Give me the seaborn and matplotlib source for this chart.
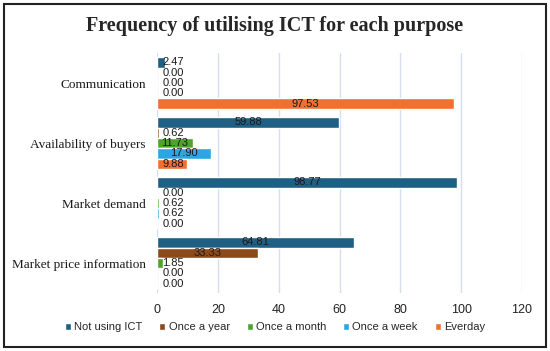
import matplotlib
matplotlib.use("Agg")
import matplotlib.pyplot as plt
import seaborn as sns
import pandas as pd
from matplotlib.patches import Rectangle

# data
purposes = ["Communication", "Availability of buyers", "Market demand", "Market price information"]
frequencies = ["Not using ICT", "Once a year", "Once a month", "Once a week", "Everday"]
not_using = [2.47, 59.88, 98.77, 64.81]
once_year = [0.00, 0.62, 0.00, 33.33]
once_month = [0.00, 11.73, 0.62, 1.85]
once_week = [0.00, 17.90, 0.62, 0.00]
everyday = [97.53, 9.88, 0.00, 0.00]

colors = ["#1f5f84", "#8b4a1c", "#4fa32c", "#2aa7e0", "#f07030"]

rows = []
for freq, vals in zip(frequencies, [not_using, once_year, once_month, once_week, everyday]):
    for p, v in zip(purposes, vals):
        rows.append({"Purpose": p, "Frequency": freq, "Value": v})
df = pd.DataFrame(rows)

sns.set_style("white")
fig = plt.figure(figsize=(5.5, 3.51), dpi=100)
ax = fig.add_axes([0.2855, 0.165, 0.6636, 0.684])

sns.barplot(data=df, y="Purpose", x="Value", hue="Frequency", order=purposes,
            hue_order=frequencies, palette=colors, orient="h", width=0.86,
            saturation=1, errorbar=None, ax=ax, legend=True)

# value labels: centred on the bar, pushed right for tiny bars
for cont in ax.containers:
    for bar in cont:
        v = bar.get_width()
        yc = bar.get_y() + bar.get_height() / 2
        ax.text(max(v / 2, 5.3), yc, f"{v:.2f}", ha="center", va="center",
                fontsize=8, color="#1a1a1a", family="Liberation Sans")

ax.set_xlim(0, 120)
ax.set_ylim(3.5, -0.5)
ax.set_xticks(range(0, 121, 20))
ax.grid(axis="x", color="#d5deec", linewidth=1)
ax.set_axisbelow(True)
for s in ax.spines.values():
    s.set_visible(False)
ax.tick_params(length=0)
ax.set_xlabel("")
ax.set_ylabel("")
for lab in ax.get_xticklabels():
    lab.set_family("Liberation Sans")
    lab.set_fontsize(9)
    lab.set_color("#222222")
for lab in ax.get_yticklabels():
    lab.set_family("Liberation Serif")
    lab.set_fontsize(9.5)
    lab.set_color("#1a1a1a")
ax.tick_params(axis="x", pad=8)
ax.tick_params(axis="y", pad=8)

handles, labels = ax.get_legend_handles_labels()
ax.get_legend().remove()
fig.legend(handles, labels, loc="center", bbox_to_anchor=(0.5, 0.068), ncol=5,
           frameon=False, handlelength=0.55, handleheight=0.55, handletextpad=0.3,
           columnspacing=1.5, prop={"family": "Liberation Sans", "size": 8})

fig.text(0.5, 0.925, "Frequency of utilising ICT for each purpose", ha="center", va="center",
         fontsize=14.5, fontweight="bold", family="Liberation Serif")

fig.patches.append(Rectangle((4 / 550, 4 / 351), 542 / 550, 343 / 351, transform=fig.transFigure,
                             fill=False, edgecolor="#222222", linewidth=1.5))

fig.savefig("out.png", dpi=100)
